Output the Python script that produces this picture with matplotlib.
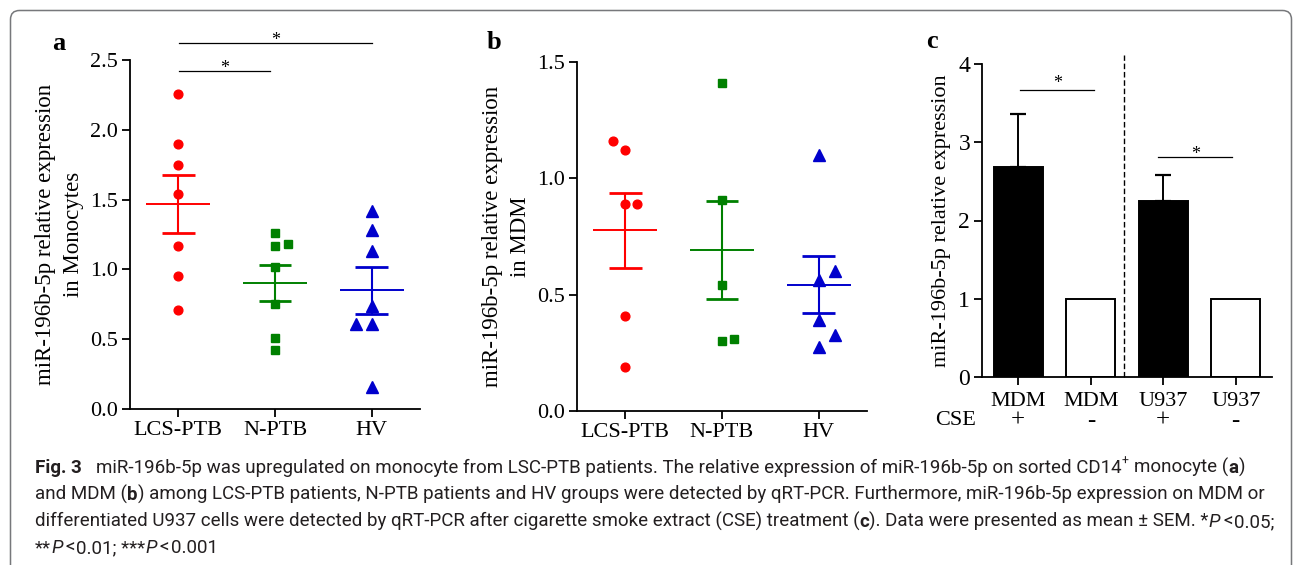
import numpy as np
import matplotlib
matplotlib.use('Agg')
import matplotlib.pyplot as plt
from matplotlib.patches import FancyBboxPatch
from matplotlib.transforms import IdentityTransform
from matplotlib.ticker import FormatStrFormatter

# ---------------- data ----------------
groups = ['LCS-PTB', 'N-PTB', 'HV']
mono_lcs = [2.26, 1.90, 1.75, 1.54, 1.17, 0.95, 0.71]
mono_nptb = [1.26, 1.18, 1.17, 1.02, 0.75, 0.51, 0.42]
mono_hv = [1.42, 1.28, 1.13, 0.74, 0.61, 0.61, 0.16]

mdm_lcs = [1.16, 1.12, 0.89, 0.89, 0.41, 0.19]
mdm_nptb = [1.41, 0.905, 0.54, 0.30, 0.31]
mdm_hv = [1.10, 0.60, 0.565, 0.39, 0.325, 0.275]

cse_cells = ['MDM', 'MDM', 'U937', 'U937']
cse_signs = ['+', '-', '+', '-']
cse_mean = [2.69, 1.0, 2.245, 1.0]
cse_sem = [0.675, 0.0, 0.34, 0.0]

# ---------------- layout / style ----------------
W, H, DPI = 1293, 565, 100
colors = ['#FF0000', '#008000', '#0000CC']
markers = ['o', 's', '^']
msizes = [6.3, 6.3, 8.0]
mono_dx = [[0, 0, 0, 0, 0, 0, 0],
           [0, 0.13, 0, 0, 0, 0, 0],
           [0, 0, 0, 0, -0.165, 0, 0]]
mdm_dx = [[-0.125, 0, 0, 0.125, 0, 0],
          [0, 0, 0, 0, 0.125],
          [0, 0.17, 0, 0, 0.17, 0]]

SERIF = 'Liberation Serif'
plt.rcParams['font.family'] = SERIF
plt.rcParams['axes.linewidth'] = 1.3

fig = plt.figure(figsize=(W / DPI, H / DPI), dpi=DPI)
fig.patch.set_facecolor('white')


def px_axes(l, t, r, b):
    return fig.add_axes([l / W, 1 - b / H, (r - l) / W, (b - t) / H])


def style_axes(ax, tick_fs):
    for s in ['top', 'right']:
        ax.spines[s].set_visible(False)
    ax.tick_params(axis='both', direction='out', length=5.5, width=1.3,
                   labelsize=tick_fs, pad=3)
    ax.set_facecolor('none')


def dot_panel(ax, data, dx):
    for i, (vals, offs) in enumerate(zip(data, dx)):
        vals = np.asarray(vals)
        x = i + np.asarray(offs)
        ax.plot(x, vals, linestyle='none', marker=markers[i], ms=msizes[i],
                color=colors[i], mec=colors[i], clip_on=False, zorder=3)
        m = vals.mean()
        se = vals.std(ddof=1) / np.sqrt(len(vals))
        ax.hlines(m, i - 0.33, i + 0.33, color=colors[i], lw=1.4, zorder=4)
        ax.vlines(i, m - se, m + se, color=colors[i], lw=1.5, zorder=4)
        ax.hlines([m - se, m + se], i - 0.17, i + 0.17, color=colors[i], lw=2.0, zorder=4)
    ax.set_xlim(-0.5, 2.5)
    ax.set_xticks(range(len(groups)))
    ax.set_xticklabels(groups, fontsize=16)


def sig(ax, x1, x2, y, lift=0.0, star_fs=13):
    ax.plot([x1, x2], [y, y], color='black', lw=0.9, clip_on=False)
    ax.annotate('*', xy=((x1 + x2) / 2, y), xytext=(0, lift),
                textcoords='offset points', ha='center', va='baseline',
                fontsize=star_fs, annotation_clip=False)


# ---------------- panel a ----------------
axa = px_axes(130, 60, 420, 409)
style_axes(axa, 16)
dot_panel(axa, [mono_lcs, mono_nptb, mono_hv], mono_dx)
axa.set_ylim(0, 2.5)
axa.set_yticks([0, 0.5, 1.0, 1.5, 2.0, 2.5])
axa.yaxis.set_major_formatter(FormatStrFormatter('%.1f'))
axa.set_ylabel('miR-196b-5p relative expression\nin Monocytes', fontsize=16.5,
               va='center', linespacing=1.42)
axa.yaxis.set_label_coords(-0.243, 0.5)
sig(axa, 0.01, 2.0, 2.62, lift=-1.5)
sig(axa, 0.01, 0.95, 2.42, lift=-1.5)

# ---------------- panel b ----------------
axb = px_axes(577, 62, 867, 411)
style_axes(axb, 16)
dot_panel(axb, [mdm_lcs, mdm_nptb, mdm_hv], mdm_dx)
axb.set_ylim(0, 1.5)
axb.set_yticks([0, 0.5, 1.0, 1.5])
axb.yaxis.set_major_formatter(FormatStrFormatter('%.1f'))
axb.set_ylabel('miR-196b-5p relative expression\nin MDM', fontsize=16.5,
               va='center', linespacing=1.42)
axb.yaxis.set_label_coords(-0.243, 0.5)

# ---------------- panel c ----------------
axc = px_axes(982, 64, 1272, 377)
style_axes(axc, 17)
xc = np.arange(len(cse_mean))
fills = ['black', 'white', 'black', 'white']
axc.bar(xc, cse_mean, width=0.68, color=fills, edgecolor='black', linewidth=1.4,
        zorder=2)
for i in range(len(cse_mean)):
    if cse_sem[i] > 0:
        axc.errorbar(xc[i], cse_mean[i], yerr=[[0], [cse_sem[i]]], fmt='none',
                     ecolor='black', elinewidth=1.4, capsize=6, capthick=1.6,
                     zorder=1)
axc.set_xlim(-0.5, 3.5)
axc.set_ylim(0, 4)
axc.set_yticks([0, 1, 2, 3, 4])
axc.set_xticks(xc)
axc.set_xticklabels(cse_cells, fontsize=16)
axc.tick_params(axis='x', pad=5)
axc.set_ylabel('miR-196b-5p relative expression', fontsize=16, va='center')
axc.yaxis.set_label_coords(-0.141, 0.5)
axc.plot([1.455, 1.455], [0, 4.12], color='black', lw=1.0, dashes=(4, 2),
         clip_on=False)
sig(axc, 0.03, 1.05, 3.67, lift=1.5)
sig(axc, 1.93, 2.95, 2.81, lift=-1.5)
tr = axc.get_xaxis_transform()
axc.text(-0.87, -0.14, 'CSE', transform=tr, ha='center', va='center', fontsize=16)
for i, s in enumerate(cse_signs):
    axc.text(xc[i], -0.14, s, transform=tr, ha='center', va='center', fontsize=18)

# ---------------- panel letters ----------------
for lab, xl, yb in [('a', 52, 50), ('b', 487, 49), ('c', 926, 48)]:
    fig.text(xl / W, 1 - yb / H, lab, ha='left', va='baseline', fontsize=19,
             fontweight='bold')

# ---------------- caption ----------------
CAP = ['Roboto', 'DejaVu Sans']
renderer = fig.canvas.get_renderer()

line1 = [('Fig. 3', 'b', 0), ('miR-196b-5p was upregulated on monocyte from LSC-PTB patients. '
         'The relative expression of miR-196b-5p on sorted CD14', 'n', 0.75),
         ('+', 'sup', 0), ('monocyte (', 'n', 0.3), ('a', 'b', 0), (')', 'n', 0)]
line2 = [('and MDM (', 'n', 0), ('b', 'b', 0),
         (') among LCS-PTB patients, N-PTB patients and HV groups were detected by qRT-PCR. '
          'Furthermore, miR-196b-5p expression on MDM or', 'n', 0)]
line3 = [('differentiated U937 cells were detected by qRT-PCR after cigarette smoke extract (CSE) '
          'treatment (', 'n', 0), ('c', 'b', 0),
         ('). Data were presented as mean \u00b1 SEM. *', 'n', 0), ('P', 'i', 0),
         ('<', 'n', 0.15), ('0.05;', 'n', 0.08)]
line4 = [('**', 'n', 0), ('P', 'i', 0), ('<', 'n', 0.15), ('0.01; ***', 'n', 0.08),
         ('P', 'i', 0), ('<', 'n', 0.15), ('0.001', 'n', 0.08)]


def draw_line(segs, x0, base, size, draw=True):
    x = x0
    made = []
    for txt, st, gap in segs:
        x += gap * size * DPI / 72.0
        kw = dict(family=CAP, fontsize=size, color='#231F20')
        y = base
        if st == 'b':
            kw['fontweight'] = 'bold'
        elif st == 'i':
            kw['fontstyle'] = 'italic'
        elif st == 'sup':
            kw['fontsize'] = size * 0.65
            y = base - size * 0.42 * DPI / 72.0
        t = fig.text(x / W, 1 - y / H, txt, ha='left', va='baseline', **kw)
        bb = t.get_window_extent(renderer)
        x += bb.width
        made.append(t)
    if not draw:
        for t in made:
            t.remove()
    return x


trial = 10.0
fits = []
for segs, target in [(line1, 1263), (line2, 1278), (line3, 1275)]:
    end = draw_line(segs, 35, 473, trial, draw=False)
    fits.append(trial * (target - 35) / (end - 35))
cap_fs = min(fits)
draw_line(line1, 35, 473, cap_fs)
draw_line(line2, 35, 500, cap_fs)
draw_line(line3, 35, 527, cap_fs)
draw_line(line4, 35, 553, cap_fs)

# ---------------- outer rounded frame ----------------
frame = FancyBboxPatch((10.5, -20), 1281, 574.5,
                       boxstyle='round,pad=0,rounding_size=9',
                       transform=IdentityTransform(), fill=False,
                       edgecolor='#77787B', linewidth=1.1)
fig.patches.append(frame)

fig.savefig('out.png', dpi=DPI, facecolor='white')
